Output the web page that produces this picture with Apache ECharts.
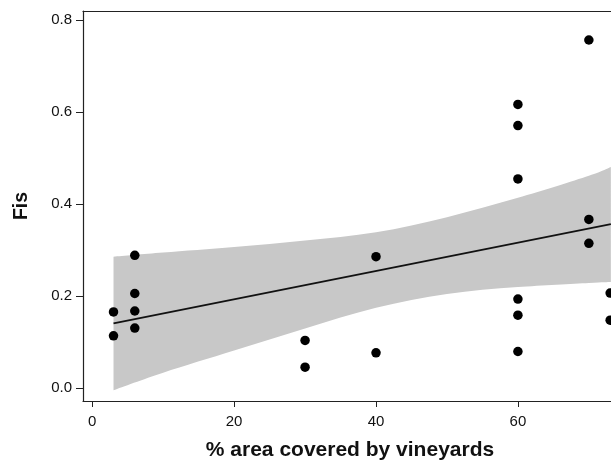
<!DOCTYPE html>
<html>
<head>
<meta charset="utf-8">
<script src="https://cdn.jsdelivr.net/npm/echarts@6/dist/echarts.min.js"></script>
<style>
html,body{margin:0;padding:0;background:#fff;}
#chart{width:611px;height:460px;}
</style>
</head>
<body>
<div id="chart"></div>
<script>
// Observed points: % area covered by vineyards vs Fis
var areaPct = [3, 3, 6, 6, 6, 6, 30, 30, 40, 40, 60, 60, 60, 60, 60, 60, 70, 70, 70, 73, 73];
var fisVals = [0.166, 0.114, 0.289, 0.206, 0.168, 0.131, 0.104, 0.046, 0.286, 0.077,
               0.617, 0.571, 0.455, 0.194, 0.159, 0.080, 0.757, 0.367, 0.315, 0.207, 0.148];

// Fitted regression line (end points)
var fitX = [3, 73.1];
var fitY = [0.141, 0.357];

// Confidence band
var bandX     = [3, 10, 20, 30, 40, 50, 60, 70, 73.1];
var bandUpper = [0.286, 0.295, 0.307, 0.321, 0.339, 0.372, 0.414, 0.462, 0.481];
var bandLower = [-0.004, 0.034, 0.082, 0.130, 0.175, 0.205, 0.220, 0.229, 0.231];

// Tick labels
var xTicks = [0, 20, 40, 60];
var yTicks = [0, 0.2, 0.4, 0.6, 0.8];

var chart = echarts.init(document.getElementById('chart'), null, {renderer: 'canvas'});

var scatterData = areaPct.map(function (x, i) { return [x, fisVals[i]]; });
var fitData = fitX.map(function (x, i) { return [x, fitY[i]]; });

var font = '"Liberation Sans", Arial, sans-serif';
var ink = '#111111';

// Smooth curve through pixel points (Catmull-Rom -> cubic Bezier path commands)
function curvePath(pts, startCmd) {
  var d = startCmd + pts[0][0] + ' ' + pts[0][1];
  for (var i = 0; i < pts.length - 1; i++) {
    var p0 = pts[i - 1] || pts[i], p1 = pts[i], p2 = pts[i + 1], p3 = pts[i + 2] || pts[i + 1];
    var c1x = p1[0] + (p2[0] - p0[0]) / 6, c1y = p1[1] + (p2[1] - p0[1]) / 6;
    var c2x = p2[0] - (p3[0] - p1[0]) / 6, c2y = p2[1] - (p3[1] - p1[1]) / 6;
    d += ' C' + c1x + ' ' + c1y + ' ' + c2x + ' ' + c2y + ' ' + p2[0] + ' ' + p2[1];
  }
  return d;
}

var option = {
  animation: false,
  backgroundColor: '#ffffff',
  grid: {left: 83, top: 11, right: 0, bottom: 59, containLabel: false, outerBoundsMode: 'none'},
  xAxis: [{
    type: 'value', min: -1.3, max: 73.12,
    name: '% area covered by vineyards',
    nameLocation: 'middle', nameGap: 39,
    nameTextStyle: {fontFamily: font, fontWeight: 'bold', fontSize: 21, color: ink, padding: [0, 0, 0, 6]},
    axisLine: {show: true, onZero: false, lineStyle: {color: '#222', width: 1.2}},
    axisTick: {show: true, length: 6, inside: false, customValues: xTicks, lineStyle: {color: '#222'}},
    axisLabel: {show: true, customValues: xTicks, margin: 13, fontFamily: font, fontSize: 15, color: ink},
    splitLine: {show: false}
  }, {
    type: 'value', min: -1.3, max: 73.12, position: 'top',
    axisLine: {show: true, onZero: false, lineStyle: {color: '#222', width: 1.2}},
    axisTick: {show: false}, axisLabel: {show: false}, splitLine: {show: false}
  }],
  yAxis: [{
    type: 'value', min: -0.0276, max: 0.82,
    name: 'Fis',
    nameLocation: 'middle', nameGap: 51, nameRotate: 90,
    nameTextStyle: {fontFamily: font, fontWeight: 'bold', fontSize: 19.5, color: ink},
    axisLine: {show: true, onZero: false, lineStyle: {color: '#222', width: 1.2}},
    axisTick: {show: true, length: 7, inside: false, customValues: yTicks, lineStyle: {color: '#222'}},
    axisLabel: {show: true, customValues: yTicks, margin: 11, fontFamily: font, fontSize: 15, color: ink,
      formatter: function (v) { return Number(v).toFixed(1); }},
    splitLine: {show: false}
  }],
  series: [{
    type: 'custom',
    xAxisIndex: 0, yAxisIndex: 0,
    silent: true,
    z: 1,
    data: [[bandX[0], bandUpper[0]]],
    renderItem: function (params, api) {
      var up = [], lo = [];
      for (var i = 0; i < bandX.length; i++) up.push(api.coord([bandX[i], bandUpper[i]]));
      for (var j = bandX.length - 1; j >= 0; j--) lo.push(api.coord([bandX[j], bandLower[j]]));
      var d = curvePath(up, 'M') + ' ' + curvePath(lo, 'L') + ' Z';
      return {type: 'path', shape: {pathData: d}, style: {fill: '#c8c8c8', stroke: null}};
    }
  }, {
    type: 'line',
    xAxisIndex: 0, yAxisIndex: 0,
    data: fitData,
    symbol: 'none',
    lineStyle: {color: '#111', width: 1.8},
    z: 2
  }, {
    type: 'scatter',
    xAxisIndex: 0, yAxisIndex: 0,
    data: scatterData,
    symbol: 'circle', symbolSize: 9.5,
    itemStyle: {color: '#000', opacity: 1},
    z: 3
  }]
};
chart.setOption(option);
</script>
</body>
</html>
